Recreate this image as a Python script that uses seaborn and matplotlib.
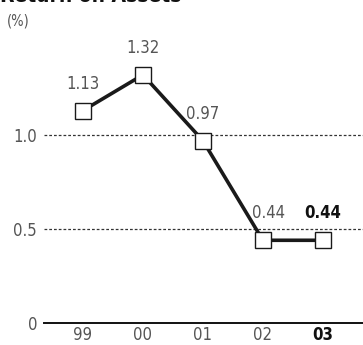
import matplotlib
matplotlib.use("Agg")
import matplotlib.pyplot as plt
from matplotlib import font_manager as fm
import seaborn as sns
import pandas as pd

years = ["99", "00", "01", "02", "03"]
roa = [1.13, 1.32, 0.97, 0.44, 0.44]
value_labels = ["1.13", "1.32", "0.97", "0.44", "0.44"]
y_ticks = [0, 0.5, 1.0]
y_tick_labels = ["0", "0.5", "1.0"]
title = "Return on Assets"
unit = "(%)"

sns.set_theme(style="white")
plt.rcParams["font.family"] = ["DejaVu Sans"]
plt.rcParams["font.stretch"] = "condensed"

names = sorted({f.name + " | " + str(f.stretch) + " | " + f.fname.split("/")[-1] for f in fm.fontManager.ttflist})
print("\n".join(names))

df = pd.DataFrame({"year": years, "roa": roa})

fig = plt.figure(figsize=(3.63, 3.45), dpi=100)
ax = fig.add_axes([44 / 363, 22 / 345, 319 / 363, 282 / 345])

# Dotted reference lines at the non-zero ticks
for yv in y_ticks[1:]:
    ax.axhline(yv, color="#333333", lw=0.9, ls=(0, (2.2, 1.6)), zorder=1)

sns.lineplot(data=df, x="year", y="roa", ax=ax, color="#1a1a1a", lw=2.6,
             marker="s", markersize=12, markerfacecolor="white",
             markeredgecolor="#1a1a1a", markeredgewidth=1.0, zorder=3)

ax.set_xlim(-0.65, 4.67)
ax.set_ylim(0, 1.5)

for i, (v, lab) in enumerate(zip(roa, value_labels)):
    last = i == len(roa) - 1
    dx = 4 if i == 3 else 0
    ax.annotate(lab, (i, v), xytext=(dx, 13), textcoords="offset points",
                ha="center", va="bottom", fontsize=12,
                color="#111111" if last else "#555555",
                fontweight="bold" if last else "normal")

ax.set_yticks(y_ticks)
ax.set_yticklabels(y_tick_labels)
ax.tick_params(axis="both", length=0, labelsize=12, colors="#555555")
ax.tick_params(axis="y", pad=5)
ax.tick_params(axis="x", pad=2)
ax.set_xlabel("")
ax.set_ylabel("")

for t in ax.get_xticklabels():
    if t.get_text() == years[-1]:
        t.set_fontweight("bold")
        t.set_color("#111111")

for s in ["top", "right", "left"]:
    ax.spines[s].set_visible(False)
ax.spines["bottom"].set_color("#111111")
ax.spines["bottom"].set_linewidth(1.4)

fig.text(0.0, 1 - 2 / 345, title, fontsize=15, fontweight="bold",
         color="#111111", ha="left", va="baseline")
fig.text(7 / 363, 1 - 21 / 345, unit, fontsize=10.5, color="#555555",
         ha="left", va="center")

fig.savefig("out.png", dpi=100)
